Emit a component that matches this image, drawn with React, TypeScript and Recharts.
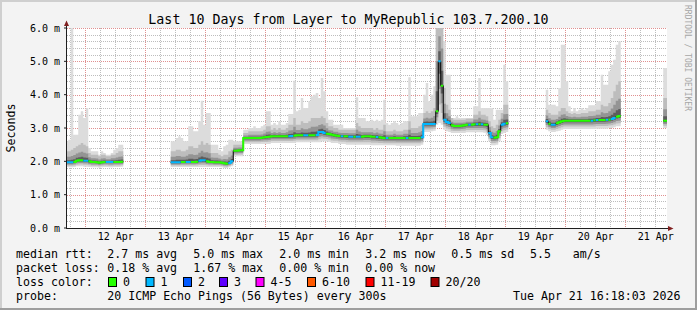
import React from "react";
import { ComposedChart, Area, Line, XAxis, YAxis } from "recharts";

const FONT = "'DejaVu Sans Mono', monospace";
const W = 697;
const H = 310;
const PLOT = { left: 67, top: 28, width: 600, height: 200 };

// hours counted from 12 Apr 00:00, one consolidated sample per hour
const X_DOMAIN: [number, number] = [-19.5, 220.5];
const Y_DOMAIN: [number, number] = [0, 6];
const segmentStart = [-20, 22, 172, 219];

const medianMs = [
  [1.97, 1.97, 1.97, 1.98, 2.02, 2.03, 2.03, 2.02, 2.02, 2.0, 1.98, 1.98, 1.97, 1.96, 1.97, 1.98, 1.98, 1.98, 1.98, 1.98, 1.98, 1.98, 1.99],
  [
    1.97, 1.97, 1.97, 1.97, 1.98, 1.98, 1.98, 1.98, 1.98, 1.98,
    1.99, 2.02, 2.03, 2.03, 2.0, 1.98, 1.98, 1.97, 1.97, 1.97,
    1.96, 1.94, 1.93, 1.95, 2.0, 2.32, 2.32, 2.33, 2.33, 2.7,
    2.7, 2.7, 2.7, 2.7, 2.7, 2.7, 2.71, 2.72, 2.73, 2.74,
    2.75, 2.75, 2.75, 2.75, 2.75, 2.75, 2.75, 2.75, 2.76, 2.77,
    2.78, 2.78, 2.78, 2.78, 2.78, 2.78, 2.78, 2.78, 2.79, 2.88,
    2.88, 2.85, 2.83, 2.82, 2.8, 2.78, 2.77, 2.76, 2.75, 2.75,
    2.75, 2.74, 2.74, 2.74, 2.74, 2.74, 2.74, 2.75, 2.75, 2.75,
    2.74, 2.74, 2.73, 2.72, 2.71, 2.7, 2.7, 2.7, 2.7, 2.7,
    2.7, 2.7, 2.7, 2.7, 2.7, 2.7, 2.7, 2.7, 2.7, 2.7,
    2.72, 3.12, 3.12, 3.12, 3.12, 3.12, 3.5, 5.0, 4.27, 3.25,
    3.18, 3.15, 3.08, 3.06, 3.06, 3.06, 3.07, 3.08, 3.1, 3.1,
    3.1, 3.11, 3.11, 3.11, 3.11, 3.1, 3.1, 2.85, 2.72, 2.71,
    2.72, 2.9, 3.1, 3.13, 3.14,
  ],
  [
    3.2, 3.13, 3.1, 3.1, 3.14, 3.17, 3.2, 3.22, 3.22, 3.22,
    3.22, 3.22, 3.22, 3.22, 3.22, 3.22, 3.22, 3.22, 3.22, 3.23,
    3.24, 3.24, 3.24, 3.24, 3.25, 3.25, 3.27, 3.3, 3.34, 3.36,
  ],
  [3.22, 3.22],
];

const lostPings = [
  [1, 1, 1, 0, 0, 0, 0, 1, 1, 0, 0, 0, 0, 0, 0, 0, 1, 1, 1, 0, 0, 0, 0],
  [
    1, 1, 1, 1, 0, 0, 1, 1, 0, 0,
    0, 1, 1, 1, 0, 0, 0, 0, 0, 0,
    0, 0, 0, 1, 1, 0, 0, 0, 0, 0,
    0, 0, 0, 0, 0, 0, 0, 0, 0, 0,
    0, 0, 0, 0, 0, 0, 0, 1, 1, 0,
    0, 0, 0, 1, 1, 0, 0, 0, 1, 1,
    1, 1, 0, 0, 0, 0, 0, 0, 1, 0,
    0, 1, 1, 0, 1, 1, 0, 0, 0, 0,
    0, 0, 1, 0, 0, 0, 1, 0, 0, 0,
    0, 0, 0, 0, 1, 0, 0, 0, 0, 0,
    1, 1, 1, 1, 1, 1, 0, 1, 0, 1,
    1, 1, 0, 0, 0, 0, 0, 0, 0, 1,
    0, 0, 1, 0, 1, 0, 0, 1, 1, 0,
    0, 0, 1, 1, 0,
  ],
  [
    1, 0, 1, 1, 0, 0, 0, 0, 0, 0,
    0, 0, 0, 0, 0, 0, 0, 0, 1, 0,
    1, 0, 0, 0, 1, 0, 1, 1, 0, 0,
  ],
  [0, 0],
];

const smokeLowMs = [
  [1.83, 1.82, 1.82, 1.83, 1.85, 1.85, 1.85, 1.84, 1.84, 1.83, 1.82, 1.82, 1.82, 1.81, 1.82, 1.83, 1.83, 1.82, 1.82, 1.83, 1.83, 1.83, 1.84],
  [
    1.83, 1.83, 1.83, 1.83, 1.83, 1.83, 1.83, 1.83, 1.83, 1.83,
    1.83, 1.83, 1.83, 1.83, 1.83, 1.83, 1.83, 1.83, 1.83, 1.83,
    1.82, 1.8, 1.8, 1.82, 1.85, 2.15, 2.15, 2.15, 2.15, 2.52,
    2.52, 2.52, 2.52, 2.52, 2.52, 2.52, 2.52, 2.52, 2.52, 2.52,
    2.55, 2.55, 2.55, 2.55, 2.55, 2.55, 2.55, 2.55, 2.55, 2.55,
    2.57, 2.57, 2.57, 2.57, 2.57, 2.57, 2.57, 2.57, 2.57, 2.57,
    2.6, 2.6, 2.6, 2.58, 2.55, 2.55, 2.55, 2.52, 2.52, 2.52,
    2.5, 2.5, 2.5, 2.5, 2.5, 2.5, 2.5, 2.5, 2.5, 2.5,
    2.48, 2.48, 2.48, 2.48, 2.48, 2.48, 2.48, 2.48, 2.48, 2.48,
    2.47, 2.47, 2.47, 2.47, 2.47, 2.47, 2.47, 2.47, 2.47, 2.47,
    2.5, 2.88, 2.88, 2.88, 2.9, 2.92, 3.1, 3.15, 3.1, 2.95,
    2.9, 2.88, 2.85, 2.85, 2.85, 2.85, 2.85, 2.85, 2.87, 2.87,
    2.87, 2.87, 2.87, 2.87, 2.87, 2.86, 2.8, 2.6, 2.48, 2.48,
    2.5, 2.6, 2.82, 2.85, 2.88,
  ],
  [
    2.95, 2.9, 2.88, 2.88, 2.9, 2.92, 2.95, 2.97, 2.97, 2.97,
    2.97, 2.97, 2.97, 2.97, 2.97, 2.97, 2.97, 2.97, 2.97, 2.97,
    2.98, 2.98, 2.98, 2.98, 2.98, 3.0, 3.0, 3.02, 3.05, 3.05,
  ],
  [3.0, 3.0],
];

const smokeHighMs = [
  [2.6, 2.65, 6.2, 2.8, 2.8, 3.4, 3.5, 3.3, 3.6, 2.4, 2.3, 2.3, 2.3, 2.2, 2.3, 2.25, 2.2, 2.2, 2.25, 2.35, 2.4, 2.5, 2.5],
  [
    2.6, 2.6, 2.7, 2.75, 2.7, 2.6, 2.6, 3.05, 3.05, 2.9,
    2.9, 3.2, 3.82, 3.1, 3.45, 3.45, 2.5, 2.5, 2.5, 2.35,
    2.3, 2.45, 2.5, 2.65, 2.65, 2.6, 2.6, 2.6, 2.6, 2.95,
    2.95, 3.0, 3.0, 3.05, 3.0, 3.0, 3.05, 3.1, 3.5, 3.5,
    3.1, 3.15, 3.1, 3.2, 3.1, 3.1, 3.15, 3.42, 3.42, 4.42,
    3.5, 3.55, 3.9, 3.6, 3.6, 3.8, 3.95, 4.0, 4.05, 3.9,
    4.5, 4.1, 3.5, 3.25, 3.25, 3.1, 3.1, 3.1, 3.1, 3.0,
    3.0, 3.0, 3.0, 3.0, 3.92, 3.3, 3.3, 3.3, 3.2, 3.2,
    3.25, 3.2, 3.25, 3.2, 3.25, 3.85, 3.15, 3.1, 3.15, 3.2,
    3.15, 3.1, 3.15, 3.2, 3.2, 4.52, 3.35, 3.35, 3.35, 3.45,
    3.45, 4.0, 4.35, 3.8, 4.0, 4.25, 6.5, 6.5, 6.5, 5.6,
    4.6, 4.6, 3.3, 3.3, 3.35, 3.3, 3.3, 3.3, 3.3, 3.3,
    3.3, 3.65, 3.65, 4.5, 3.6, 3.6, 3.6, 3.6, 3.6, 3.25,
    3.55, 3.55, 3.55, 4.9, 4.4,
  ],
  [
    4.15, 3.7, 3.7, 3.7, 3.65, 4.2, 5.5, 5.5, 4.4, 3.65,
    3.5, 3.6, 3.5, 3.55, 3.6, 3.55, 3.6, 3.68, 3.68, 3.68,
    3.8, 3.8, 4.6, 4.3, 4.3, 4.7, 4.9, 5.05, 5.5, 5.6,
  ],
  [4.8, 4.8],
];

// upper edge of the denser (mid-grey) smoke
const smokeDenseMs = [
  [2.3, 2.3, 2.35, 2.4, 2.45, 2.5, 2.55, 2.5, 2.45, 2.25, 2.2, 2.2, 2.2, 2.15, 2.2, 2.2, 2.15, 2.15, 2.2, 2.2, 2.25, 2.3, 2.3],
  [
    2.3, 2.3, 2.35, 2.35, 2.3, 2.3, 2.35, 2.45, 2.45, 2.4,
    2.4, 2.5, 2.6, 2.5, 2.55, 2.5, 2.25, 2.25, 2.25, 2.2,
    2.15, 2.2, 2.2, 2.3, 2.35, 2.5, 2.5, 2.5, 2.5, 2.85,
    2.85, 2.9, 2.9, 2.9, 2.9, 2.9, 2.9, 2.95, 3.05, 3.05,
    2.95, 3.0, 2.95, 3.0, 2.95, 2.95, 3.0, 3.1, 3.1, 3.3,
    3.1, 3.1, 3.2, 3.15, 3.15, 3.2, 3.3, 3.3, 3.3, 3.3,
    3.35, 3.3, 3.15, 3.05, 3.05, 3.0, 3.0, 2.95, 2.95, 2.95,
    2.95, 2.95, 2.95, 2.95, 3.15, 3.05, 3.0, 3.0, 3.0, 3.0,
    3.0, 2.95, 3.0, 2.95, 2.95, 3.1, 2.9, 2.9, 2.9, 2.95,
    2.9, 2.9, 2.9, 2.95, 2.95, 3.2, 3.0, 3.0, 3.0, 3.05,
    3.1, 3.45, 3.5, 3.45, 3.5, 3.6, 6.5, 6.5, 6.5, 4.2,
    3.7, 3.55, 3.3, 3.25, 3.25, 3.25, 3.25, 3.25, 3.28, 3.28,
    3.28, 3.4, 3.4, 3.5, 3.4, 3.4, 3.35, 3.2, 3.05, 3.0,
    3.1, 3.25, 3.45, 3.7, 3.7,
  ],
  [
    3.55, 3.45, 3.4, 3.4, 3.4, 3.5, 3.6, 3.6, 3.5, 3.45,
    3.42, 3.45, 3.42, 3.42, 3.45, 3.45, 3.45, 3.5, 3.5, 3.5,
    3.55, 3.55, 3.7, 3.65, 3.65, 3.75, 3.9, 4.1, 4.3, 4.4,
  ],
  [3.9, 3.9],
];

const dayTicks = [0, 24, 48, 72, 96, 120, 144, 168, 192, 216];
const dayLabels = ["12 Apr", "13 Apr", "14 Apr", "15 Apr", "16 Apr", "17 Apr", "18 Apr", "19 Apr", "20 Apr", "21 Apr"];
const noonTicks = [-12, 12, 36, 60, 84, 108, 132, 156, 180, 204];
const valueTicks = [0, 1, 2, 3, 4, 5, 6];
// minor grid: every 6 hours and every 0.2 ms, leaving out the major positions
const sixHourTicks = Array.from({ length: 40 }, (_, i) => -18 + i * 6).filter((h) => !noonTicks.includes(h));
const minorValueTicks = Array.from({ length: 31 }, (_, i) => i).filter((i) => i % 5 !== 0).map((i) => i / 5);

const lossLabels = ["0", "1", "2", "3", "4-5", "6-10", "11-19", "20/20"];
const lossColors = ["#26ff00", "#00b8ff", "#0059ff", "#5e00ff", "#ff00fe", "#ff5900", "#ff0000", "#a00000"];
const medianStats = ["2.7 ms avg", "5.0 ms max", "2.0 ms min", "3.2 ms now", "0.5 ms sd"];
const lossStats = ["0.18 % avg", "1.67 % max", "0.00 % min", "0.00 % now"];

// grid line pixel positions, snapped to the pixel raster like rrdtool does
const gridX = (h: number) =>
  Math.round(PLOT.left + ((h - X_DOMAIN[0]) / (X_DOMAIN[1] - X_DOMAIN[0])) * PLOT.width) - 0.5;
const gridY = (v: number) =>
  Math.round(PLOT.top + PLOT.height - ((v - Y_DOMAIN[0]) / (Y_DOMAIN[1] - Y_DOMAIN[0])) * PLOT.height) + 0.5;

type Range = [number, number] | null;
type Row = {
  t: number;
  med: number | null;
  m0: number | null;
  m1: number | null;
  light: Range;
  mid: Range;
  dark: Range;
  core: Range;
};

const rows: Row[] = [];
segmentStart.forEach((start, s) => {
  if (s > 0) {
    rows.push({ t: start - 0.5, med: null, m0: null, m1: null, light: null, mid: null, dark: null, core: null });
  }
  medianMs[s].forEach((m, j) => {
    const lo = smokeLowMs[s][j];
    const hi = smokeHighMs[s][j];
    const dn = smokeDenseMs[s][j];
    const loss = lostPings[s][j];
    const make = (t: number): Row => ({
      t,
      med: m,
      m0: loss === 0 ? m : null,
      m1: loss === 1 ? m : null,
      light: [lo, hi],
      mid: [m - (m - lo) * 0.7, dn],
      dark: [m - (m - lo) * 0.45, m + (dn - m) * 0.5],
      core: [m - (m - lo) * 0.2, m + (dn - m) * 0.2],
    });
    rows.push(make(start + j), make(start + j + 1));
  });
});

const tickStyle = { fontFamily: FONT, fontSize: 10, fill: "#000" };
const layer = { position: "absolute" as const, left: 0, top: 0 };

// dotted grid, drawn underneath the smoke
function Grid() {
  const x0 = PLOT.left;
  const x1 = PLOT.left + PLOT.width;
  const y0 = PLOT.top;
  const y1 = PLOT.top + PLOT.height;
  return (
    <svg width={W} height={H} style={layer}>
      <rect x={x0} y={y0} width={PLOT.width} height={PLOT.height} fill="#ffffff" />
      {minorValueTicks.map((v) => (
        <line key={`h${v}`} x1={x0} x2={x1} y1={gridY(v)} y2={gridY(v)} stroke="#bdbdbd" strokeDasharray="1 1" />
      ))}
      {sixHourTicks.map((h) => (
        <line key={`v${h}`} x1={gridX(h)} x2={gridX(h)} y1={y0} y2={y1} stroke="#bdbdbd" strokeDasharray="1 1" />
      ))}
      {valueTicks.map((v) => (
        <line key={`H${v}`} x1={x0} x2={x1} y1={gridY(v)} y2={gridY(v)} stroke="#e09090" strokeDasharray="1 1" />
      ))}
      {noonTicks.map((h) => (
        <line key={`V${h}`} x1={gridX(h)} x2={gridX(h)} y1={y0} y2={y1} stroke="#e09090" strokeDasharray="1 1" />
      ))}
    </svg>
  );
}

export default function App() {
  const legendX = [107.3, 193.3, 279.3, 365.3, 451.3];
  const boxX = [108, 145.5, 183, 219, 255.5, 307, 365.5, 430.5];
  return (
    <div style={{ position: "relative", width: W, height: H, background: "#f3f3f3", overflow: "hidden" }}>
      <style>{"body{margin:0}"}</style>
      <Grid />
      <div style={layer}>
        <ComposedChart
          width={W}
          height={H}
          data={rows}
          margin={{ top: PLOT.top, right: W - PLOT.left - PLOT.width, bottom: 0, left: 7 }}
        >
          <XAxis
            dataKey="t"
            type="number"
            domain={X_DOMAIN}
            allowDataOverflow
            ticks={dayTicks}
            interval={0}
            tickFormatter={(v) => dayLabels[dayTicks.indexOf(v)] ?? ""}
            tick={tickStyle}
            tickLine={false}
            tickSize={0}
            tickMargin={5}
            height={H - PLOT.top - PLOT.height}
            axisLine={false}
          />
          <YAxis
            type="number"
            domain={Y_DOMAIN}
            allowDataOverflow
            ticks={valueTicks}
            interval={0}
            width={60}
            tickFormatter={(v) => `${Number(v).toFixed(1)} m`}
            tick={tickStyle}
            tickSize={3}
            tickMargin={4}
            tickLine={{ stroke: "#1f1f1f" }}
            axisLine={false}
          />

          <Area dataKey="light" type="linear" stroke="none" fill="#dcdcdc" fillOpacity={1} isAnimationActive={false} dot={false} activeDot={false} />
          <Area dataKey="mid" type="linear" stroke="none" fill="#bdbdbd" fillOpacity={1} isAnimationActive={false} dot={false} activeDot={false} />
          <Area dataKey="dark" type="linear" stroke="none" fill="#949494" fillOpacity={1} isAnimationActive={false} dot={false} activeDot={false} />
          <Area dataKey="core" type="linear" stroke="none" fill="#5c5c5c" fillOpacity={1} isAnimationActive={false} dot={false} activeDot={false} />

          <Line dataKey="med" type="linear" stroke="#000" strokeWidth={1} dot={false} activeDot={false} isAnimationActive={false} />
          <Line dataKey="m0" type="linear" stroke={lossColors[0]} strokeWidth={2} dot={false} activeDot={false} isAnimationActive={false} />
          <Line dataKey="m1" type="linear" stroke={lossColors[1]} strokeWidth={2} dot={false} activeDot={false} isAnimationActive={false} />
        </ComposedChart>
      </div>

      <svg width={W} height={H} style={{ ...layer, pointerEvents: "none" }} fontFamily={FONT}>
        <rect x={0} y={0} width={W} height={2} fill="#cfcfcf" />
        <rect x={0} y={0} width={2} height={H} fill="#cfcfcf" />
        <rect x={0} y={H - 2} width={W} height={2} fill="#9e9e9e" />
        <rect x={W - 2} y={0} width={2} height={H} fill="#9e9e9e" />

        <line x1={66.5} y1={22} x2={66.5} y2={229} stroke="#1f1f1f" />
        <polygon points="64,26 69,26 66.5,20.5" fill="#801f1f" />
        <line x1={66} y1={228.5} x2={670} y2={228.5} stroke="#1f1f1f" />
        <polygon points="668,226 668,231 673.5,228.5" fill="#801f1f" />

        <text x={348.5} y={24} fontSize={13.3} textAnchor="middle" fill="#000">
          Last 10 Days from Layer to MyRepublic 103.7.200.10
        </text>
        <text transform="translate(10.5,128) rotate(-90)" fontSize={11.6} textAnchor="middle" dominantBaseline="central" fill="#000">
          Seconds
        </text>
        <text transform="translate(687,5) rotate(90)" fontSize={8} dominantBaseline="central" fill="#a6a6a6">
          RRDTOOL / TOBI OETIKER
        </text>

        <g fontSize={11.6} fill="#000" style={{ whiteSpace: "pre" }}>
          <text x={16} y={258}>median rtt:</text>
          {medianStats.map((s, i) => (
            <text key={s} x={legendX[i]} y={258}>{s}</text>
          ))}
          <text x={530} y={258}>5.5</text>
          <text x={572.7} y={258}>am/s</text>

          <text x={16} y={272}>packet loss:</text>
          {lossStats.map((s, i) => (
            <text key={s} x={legendX[i]} y={272}>{s}</text>
          ))}

          <text x={16} y={286}>loss color:</text>
          {lossLabels.map((l, i) => (
            <g key={l}>
              <rect x={boxX[i] + 0.5} y={277.5} width={8} height={9} fill={lossColors[i]} stroke="#000" strokeWidth={1} />
              <text x={boxX[i] + 15} y={286}>{l}</text>
            </g>
          ))}

          <text x={16} y={300}>probe:</text>
          <text x={107.3} y={300}>20 ICMP Echo Pings (56 Bytes) every 300s</text>
          <text x={513} y={300}>Tue Apr 21 16:18:03 2026</text>
        </g>
      </svg>
    </div>
  );
}
